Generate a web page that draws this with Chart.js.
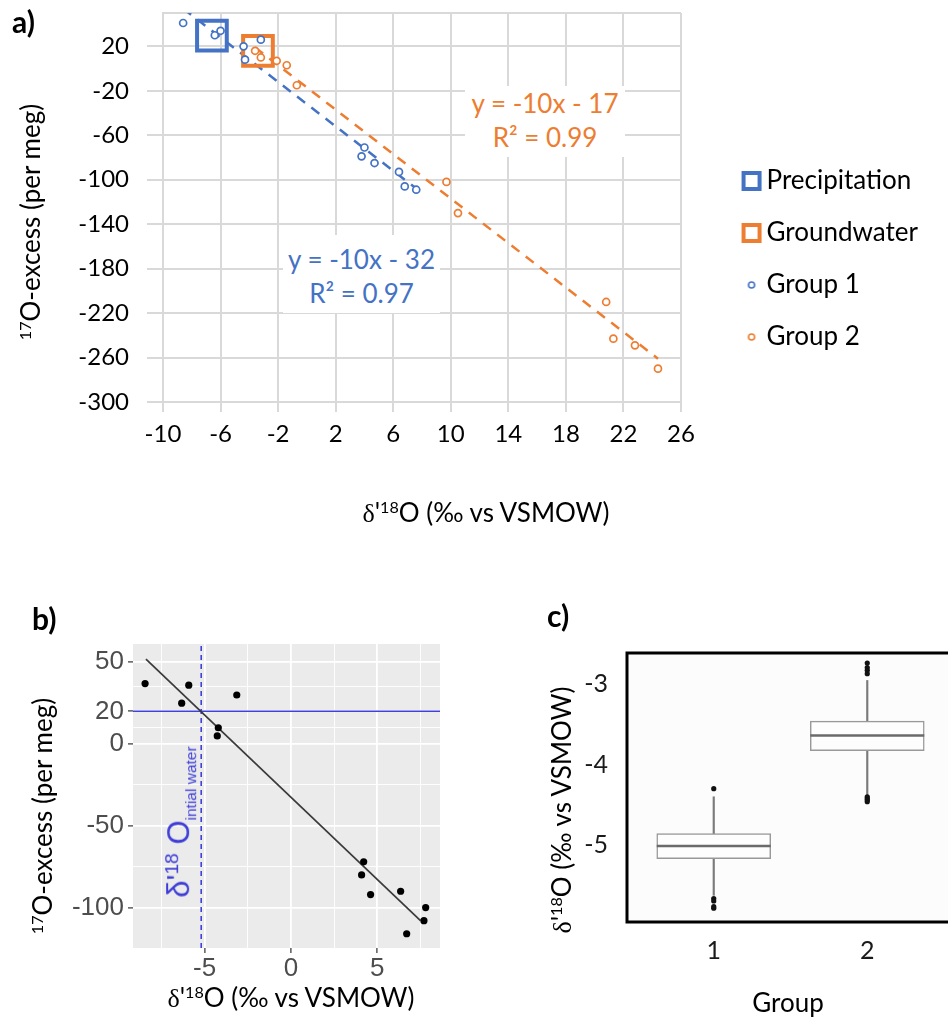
<!DOCTYPE html>
<html>
<head>
<meta charset="utf-8">
<title>17O-excess vs d'18O</title>
<script src="https://cdn.jsdelivr.net/npm/chart.js@4.4.1/dist/chart.umd.min.js"></script>
<style>
  html, body { margin: 0; padding: 0; background: #fff; }
  body { position: relative; width: 948px; height: 1020px; overflow: hidden; font-family: Lato, "Open Sans", sans-serif; color: #000; }
  canvas { position: absolute; }
  .lbl { position: absolute; white-space: nowrap; line-height: 1; }
  .mid { transform: translate(-50%, -50%); }
  .up { transform: translate(-50%, -50%) rotate(-90deg); }
  .tag { font-weight: 700; font-size: 30px; }
  .ttl { font-size: 26px; }
  sup { font-size: 0.62em; vertical-align: 0.55em; line-height: 0; }
  .serif { font-family: "Liberation Serif", serif; }
  .eq { position: absolute; background: #fff; text-align: center; font-size: 26px; line-height: 34px; }
</style>
</head>
<body>
<canvas id="chartA" width="928" height="505" style="left:0;top:0"></canvas>
<canvas id="chartB" width="470" height="420" style="left:0;top:600px"></canvas>
<canvas id="chartC" width="460" height="430" style="left:540px;top:590px"></canvas>

<!-- panel a texts -->
<div class="lbl tag" style="left:12px;top:6px">a)</div>
<div class="lbl ttl up" style="left:30px;top:222px"><sup>17</sup>O-excess (per meg)</div>
<div class="lbl ttl mid" style="left:486px;top:513px"><span class="serif">δ</span>'<sup>18</sup>O (‰ vs VSMOW)</div>
<div class="eq" style="left:465px;top:86px;width:160px;height:71px;color:#ED7D31">y = -10x - 17<br>R² = 0.99</div>
<div class="eq" style="left:283px;top:235px;width:157px;height:78px;padding-top:7px;box-sizing:border-box;color:#4472C4">y = -10x - 32<br>R² = 0.97</div>

<!-- panel b texts -->
<div class="lbl tag" style="left:32px;top:603px">b)</div>
<div class="lbl ttl up" style="left:42px;top:816px"><sup>17</sup>O-excess (per meg)</div>
<div class="lbl ttl mid" style="left:291px;top:998px"><span class="serif">δ</span>'<sup>18</sup>O (‰ vs VSMOW)</div>
<div class="lbl up" style="left:181px;top:822px;color:#3d3dd6;font-family:'Liberation Sans',Arial,sans-serif;font-size:31px">δ'<sup>18</sup> O<sub style="font-size:0.5em">intial water</sub></div>

<!-- panel c texts -->
<div class="lbl tag" style="left:547px;top:600px">c)</div>
<div class="lbl ttl up" style="left:562px;top:810px"><span class="serif">δ</span>'<sup>18</sup>O (‰ vs VSMOW)</div>
<div class="lbl ttl mid" style="left:788px;top:1002px">Group</div>

<script>
// ---- panel a: 17O-excess vs d'18O (Excel style) ----
const precipX = [-6.6];
const precipY = [29.6];
const groundX = [-3.4];
const groundY = [16];
const group1X = [-8.6, -6.4, -6.0, -4.4, -4.3, -3.2, 4.0, 3.8, 4.7, 6.4, 6.8, 7.6];
const group1Y = [41, 30, 34, 20, 8, 26, -71, -79, -85, -93, -106, -109];
const group2X = [-3.6, -3.2, -2.1, -1.4, -0.7, 9.7, 10.5, 20.8, 21.3, 22.8, 24.4];
const group2Y = [16, 10, 7, 3, -15, -102, -130, -210, -243, -249, -270];
const trend1X = [-8.6, 7.6];
const trend1Y = [54, -108];
const trend2X = [-3.6, 24.4];
const trend2Y = [19, -261];
const yTicksA = [-300, -260, -220, -180, -140, -100, -60, -20, 20];
const yMaxA = 50;

// ---- panel b: ggplot version of group 1 ----
const bX = [-8.45, -6.33, -5.92, -3.14, -4.21, -4.27, 4.21, 4.09, 4.61, 6.35, 7.8, 7.7, 6.7];
const bY = [37, 25, 36, 30, 10, 5, -72, -80, -92, -90, -100, -108, -116];
const fitBX = [-8.4, 7.5];
const fitBY = [52, -108];
const initialWaterB = -5.2;
const refExcessB = 20;
const majorXB = [-5, 0, 5];
const minorXB = [-7.5, -2.5, 2.5, 7.5];
const majorYB = [-100, -50, 0, 20, 50];
const minorYB = [-75, -25, 10, 35];

// ---- panel c: boxplots of d'18O by group ----
const groupsC = [1, 2];
const whiskLoC = [-5.62, -4.38];
const q1C = [-5.165, -3.83];
const medC = [-5.01, -3.64];
const q3C = [-4.855, -3.463];
const whiskHiC = [-4.40, -2.96];
const outliers1C = [-4.30, -5.66, -5.69, -5.76, -5.78];
const outliers2C = [-2.745, -2.80, -2.835, -2.876, -4.40, -4.42, -4.44, -4.46];
const yTicksC = [-5, -4, -3];

const BLUE = '#4472C4';
const ORANGE = '#ED7D31';
const GRID = '#d9d9d9';
const FONT = 'Lato';
const SANS = 'Liberation Sans';
const CLEAR = 'rgba(0,0,0,0)';

Chart.defaults.font.family = FONT;
Chart.defaults.animation = false;

const xy = (xs, ys) => xs.map((x, i) => ({ x: x, y: ys[i] }));

function legendIcon(kind, color) {
  const c = document.createElement('canvas');
  const g = c.getContext('2d');
  if (kind === 'square') {
    c.width = c.height = 22;
    g.strokeStyle = color;
    g.lineWidth = 4;
    g.strokeRect(3, 3, 16, 16);
  } else {
    c.width = c.height = 10;
    g.strokeStyle = color;
    g.lineWidth = 1.6;
    g.beginPath();
    g.arc(5, 5, 3, 0, Math.PI * 2);
    g.stroke();
  }
  return c;
}
const legendIconsA = [
  legendIcon('square', BLUE),
  legendIcon('square', ORANGE),
  legendIcon('circle', BLUE),
  legendIcon('circle', ORANGE),
];

// fills the plot area (and optionally frames it)
const panelBg = {
  id: 'panelBg',
  beforeDraw(chart, args, opts) {
    const { ctx, chartArea: a } = chart;
    ctx.save();
    ctx.fillStyle = opts.color;
    ctx.fillRect(a.left, a.top, a.width, a.height);
    ctx.restore();
  },
  afterDraw(chart, args, opts) {
    if (!opts.frame) return;
    const { ctx, chartArea: a } = chart;
    ctx.save();
    ctx.strokeStyle = opts.frame;
    ctx.lineWidth = 3;
    ctx.strokeRect(a.left, a.top, a.width, a.height);
    ctx.restore();
  }
};

// Panel a
new Chart(document.getElementById('chartA'), {
  type: 'scatter',
  data: {
    datasets: [
      {
        label: 'Precipitation',
        data: xy(precipX, precipY),
        pointStyle: 'rect',
        pointRadius: 21,
        pointBorderWidth: 4,
        borderColor: BLUE,
        backgroundColor: CLEAR,
        order: 2
      },
      {
        label: 'Groundwater',
        data: xy(groundX, groundY),
        pointStyle: 'rect',
        pointRadius: 21,
        pointBorderWidth: 4,
        borderColor: ORANGE,
        backgroundColor: CLEAR,
        order: 2
      },
      {
        label: 'Group 1',
        data: xy(group1X, group1Y),
        pointRadius: 3.5,
        pointBorderWidth: 1.7,
        borderColor: BLUE,
        backgroundColor: '#fff',
        order: 1
      },
      {
        label: 'Group 2',
        data: xy(group2X, group2Y),
        pointRadius: 3.5,
        pointBorderWidth: 1.7,
        borderColor: ORANGE,
        backgroundColor: '#fff',
        order: 1
      },
      {
        label: 'Linear (Group 1)',
        data: xy(trend1X, trend1Y),
        showLine: true,
        borderColor: BLUE,
        borderWidth: 2.5,
        borderDash: [10, 8],
        pointRadius: 0,
        order: 3
      },
      {
        label: 'Linear (Group 2)',
        data: xy(trend2X, trend2Y),
        showLine: true,
        borderColor: ORANGE,
        borderWidth: 2.5,
        borderDash: [10, 8],
        pointRadius: 0,
        order: 3
      }
    ]
  },
  options: {
    responsive: false,
    layout: { autoPadding: false, padding: { top: 13, left: 0, right: 0, bottom: 0 } },
    plugins: {
      tooltip: { enabled: false },
      legend: {
        position: 'right',
        align: 'center',
        maxWidth: 400,
        labels: {
          usePointStyle: true,
          pointStyleWidth: 4,
          padding: 26,
          color: '#000',
          font: { size: 26, family: FONT },
          generateLabels: (chart) => chart.data.datasets.slice(0, 4).map((ds, i) => ({
            text: ds.label,
            pointStyle: legendIconsA[i],
            fillStyle: CLEAR,
            strokeStyle: CLEAR,
            lineWidth: 0,
            fontColor: '#000',
            hidden: false,
            datasetIndex: i
          }))
        }
      }
    },
    scales: {
      x: {
        type: 'linear',
        min: -10,
        max: 26,
        ticks: { stepSize: 4, color: '#000', font: { size: 24 }, padding: 8, maxRotation: 0 },
        grid: { color: GRID, lineWidth: 2, tickLength: 10 },
        border: { color: GRID, width: 2 },
        afterFit: (s) => { s.height = 505 - 402; s.paddingLeft = 0; s.paddingRight = 0; }
      },
      y: {
        type: 'linear',
        min: -300,
        max: yMaxA,
        afterBuildTicks: (s) => { s.ticks = yTicksA.concat(yMaxA).map((v) => ({ value: v })); },
        ticks: {
          callback: (v) => (v === yMaxA ? '' : v),
          color: '#000',
          font: { size: 24 },
          padding: 18
        },
        grid: {
          color: GRID,
          lineWidth: 2,
          tickLength: 16,
          tickColor: (c) => (c.tick && c.tick.value === yMaxA ? CLEAR : GRID)
        },
        border: { color: GRID, width: 2 },
        afterFit: (s) => { s.width = 163; s.paddingTop = 0; s.paddingBottom = 0; }
      },
      gap: {
        type: 'linear',
        axis: 'y',
        position: 'right',
        display: true,
        grid: { display: false },
        border: { display: false },
        ticks: { display: false },
        afterFit: (s) => { s.width = s.chart.width - 681 - s.chart.legend.width; }
      }
    }
  }
});

// Panel b
new Chart(document.getElementById('chartB'), {
  type: 'scatter',
  data: {
    datasets: [
      {
        data: xy(bX, bY),
        pointRadius: 3.6,
        pointBorderWidth: 0,
        backgroundColor: '#000',
        borderColor: '#000',
        order: 0
      },
      {
        data: xy(fitBX, fitBY),
        showLine: true,
        borderColor: '#3a3a3a',
        borderWidth: 1.7,
        pointRadius: 0,
        order: 1
      },
      {
        data: [{ x: -9.15, y: refExcessB }, { x: 8.63, y: refExcessB }],
        showLine: true,
        borderColor: '#4040dc',
        borderWidth: 1.5,
        pointRadius: 0,
        order: 2
      },
      {
        data: [{ x: initialWaterB, y: -124.7 }, { x: initialWaterB, y: 61.2 }],
        showLine: true,
        borderColor: '#4040dc',
        borderWidth: 1.6,
        borderDash: [5, 4],
        pointRadius: 0,
        order: 2
      }
    ]
  },
  plugins: [panelBg],
  options: {
    responsive: false,
    layout: { autoPadding: false, padding: { top: 44, right: 30, left: 0, bottom: 0 } },
    plugins: {
      legend: { display: false },
      tooltip: { enabled: false },
      panelBg: { color: '#ebebeb' }
    },
    scales: {
      x: {
        type: 'linear',
        min: -9.15,
        max: 8.63,
        afterBuildTicks: (s) => {
          s.ticks = majorXB.concat(minorXB).sort((a, b) => a - b).map((v) => ({ value: v }));
        },
        ticks: {
          callback: (v) => (majorXB.includes(v) ? v : ''),
          color: '#4d4d4d',
          font: { family: SANS, size: 26 },
          padding: 0,
          autoSkip: false,
          maxRotation: 0
        },
        grid: {
          color: '#fff',
          lineWidth: (c) => (c.tick && majorXB.includes(c.tick.value) ? 1.8 : 0.9),
          tickColor: (c) => (c.tick && majorXB.includes(c.tick.value) ? '#333' : CLEAR),
          tickLength: 5,
          tickWidth: 1.2
        },
        border: { display: false },
        afterFit: (s) => { s.height = 72; s.paddingLeft = 0; s.paddingRight = 0; }
      },
      y: {
        type: 'linear',
        min: -124.7,
        max: 61.2,
        afterBuildTicks: (s) => {
          s.ticks = majorYB.concat(minorYB).sort((a, b) => a - b).map((v) => ({ value: v }));
        },
        ticks: {
          callback: (v) => (majorYB.includes(v) ? v : ''),
          color: '#4d4d4d',
          font: { family: SANS, size: 26 },
          padding: 4,
          autoSkip: false
        },
        grid: {
          color: '#fff',
          lineWidth: (c) => (c.tick && majorYB.includes(c.tick.value) ? 1.8 : 0.9),
          tickColor: (c) => (c.tick && majorYB.includes(c.tick.value) ? '#333' : CLEAR),
          tickLength: 5,
          tickWidth: 1.2
        },
        border: { display: false },
        afterFit: (s) => { s.width = 133; s.paddingTop = 0; s.paddingBottom = 0; }
      }
    }
  }
});

// Panel c
const outliersC = xy(outliers1C.map(() => groupsC[0]), outliers1C)
  .concat(xy(outliers2C.map(() => groupsC[1]), outliers2C));

new Chart(document.getElementById('chartC'), {
  type: 'bar',
  data: {
    datasets: [
      {
        type: 'scatter',
        data: outliersC,
        pointRadius: 2.6,
        pointBorderWidth: 0,
        backgroundColor: '#111',
        borderColor: '#111',
        order: 0
      },
      {
        type: 'line',
        data: xy(groupsC, medC),
        showLine: false,
        pointStyle: 'line',
        pointRadius: 57,
        pointBorderWidth: 2.5,
        borderColor: '#6a6a6a',
        order: 1
      },
      {
        data: groupsC.map((g, i) => ({ x: g, y: [q1C[i], q3C[i]] })),
        barThickness: 114,
        grouped: false,
        backgroundColor: '#fdfdfd',
        borderColor: '#999',
        borderWidth: 1.5,
        borderSkipped: false,
        order: 2
      },
      {
        data: groupsC.map((g, i) => ({ x: g, y: [whiskLoC[i], whiskHiC[i]] })),
        barThickness: 1.5,
        grouped: false,
        backgroundColor: '#7a7a7a',
        borderWidth: 0,
        order: 3
      }
    ]
  },
  plugins: [panelBg],
  options: {
    responsive: false,
    layout: { autoPadding: false, padding: { top: 63, right: 46, left: 0, bottom: 0 } },
    plugins: {
      legend: { display: false },
      tooltip: { enabled: false },
      panelBg: { color: '#fcfcfc', frame: '#000' }
    },
    scales: {
      x: {
        type: 'linear',
        min: 0.435,
        max: 2.565,
        offset: false,
        afterBuildTicks: (s) => { s.ticks = groupsC.map((v) => ({ value: v })); },
        ticks: { color: '#1a1a1a', font: { size: 25 }, padding: 6, maxRotation: 0 },
        grid: { display: false },
        border: { display: false },
        afterFit: (s) => { s.height = 98; s.paddingLeft = 0; s.paddingRight = 0; }
      },
      y: {
        type: 'linear',
        min: -5.95,
        max: -2.62,
        afterBuildTicks: (s) => { s.ticks = yTicksC.map((v) => ({ value: v })); },
        ticks: { color: '#1a1a1a', font: { size: 25 }, padding: 11 },
        grid: { display: false },
        border: { display: false },
        afterFit: (s) => { s.width = 87; s.paddingTop = 0; s.paddingBottom = 0; }
      }
    }
  }
});
</script>
</body>
</html>
